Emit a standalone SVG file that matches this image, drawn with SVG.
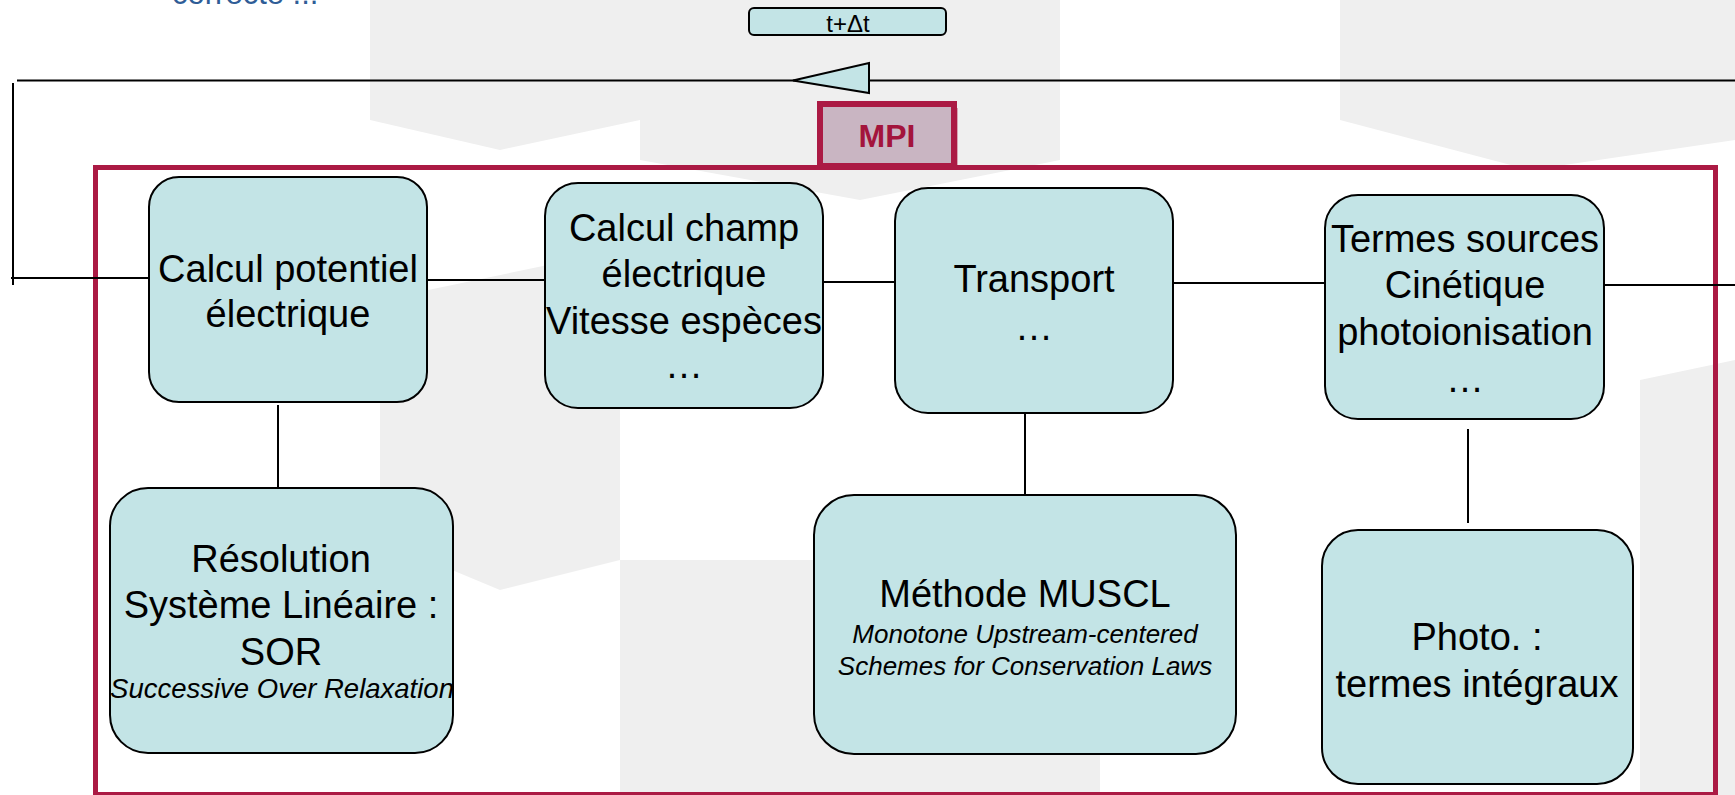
<svg xmlns="http://www.w3.org/2000/svg" width="1735" height="795" viewBox="0 0 1735 795">
<style>
.box{fill:#c3e4e6;stroke:#000;stroke-width:2}
.t{font-family:"Liberation Sans",Arial,sans-serif;font-size:38px;fill:#000;text-anchor:middle}
.it{font-family:"Liberation Sans",Arial,sans-serif;font-size:26px;font-style:italic;fill:#000;text-anchor:middle}
.ln{stroke:#000;stroke-width:2;fill:none}
</style>
<rect width="1735" height="795" fill="#fff"/>
<g id="background" fill="#efefef" stroke="none">
<polygon points="370,0 640,0 640,120 500,150 370,120"/>
<polygon points="640,0 1060,0 1060,160 860,200 640,160"/>
<polygon points="1340,0 1735,0 1735,140 1530,170 1340,120"/>
<polygon points="380,300 620,250 620,560 500,590 380,540"/>
<polygon points="620,560 1100,560 1100,795 620,795"/>
<polygon points="1640,380 1735,360 1735,795 1640,795"/>
</g>
<text id="title-fragment" x="172" y="4" font-family="Liberation Sans,Arial,sans-serif" font-size="31" fill="#2f5d97">correcte ...</text>
<g id="frame">
<rect x="95.5" y="167.5" width="1620" height="627" fill="none" stroke="#ab1a44" stroke-width="5"/>
</g>
<g id="connectors">
<line class="ln" x1="17" y1="80.5" x2="1735" y2="80.5"/>
<polygon points="793,80.5 869,63 869,93" fill="#c3e4e6" stroke="#000" stroke-width="2"/>
<line class="ln" x1="13" y1="83" x2="13" y2="285"/>
<line class="ln" x1="11" y1="278" x2="149" y2="278"/>
<line class="ln" x1="427" y1="280" x2="545" y2="280"/>
<line class="ln" x1="823" y1="282" x2="895" y2="282"/>
<line class="ln" x1="1173" y1="283" x2="1325" y2="283"/>
<line class="ln" x1="1604" y1="285" x2="1735" y2="285"/>
<line class="ln" x1="278" y1="405" x2="278" y2="488"/>
<line class="ln" x1="1025" y1="402" x2="1025" y2="495"/>
<line class="ln" x1="1468" y1="429" x2="1468" y2="523"/>
</g>
<g id="dt">
<rect x="749" y="8" width="197" height="27" rx="5" class="box"/>
<text x="848" y="32" font-family="Liberation Sans,Arial,sans-serif" font-size="24" text-anchor="middle">t+Δt</text>
</g>
<g id="mpi">
<rect x="824" y="108" width="134" height="62" fill="#ab1a44" opacity="0.35"/>
<rect x="820" y="104" width="134" height="62" fill="#c9b5c2" stroke="#ab1a44" stroke-width="6"/>
<text x="887" y="147" font-family="Liberation Sans,Arial,sans-serif" font-size="32" font-weight="bold" fill="#a3143c" text-anchor="middle">MPI</text>
</g>
<g id="potentiel">
<rect x="149" y="177" width="278" height="225" rx="30" class="box"/>
<text class="t" x="288" y="282">Calcul potentiel</text>
<text class="t" x="288" y="327">électrique</text>
</g>
<g id="champ">
<rect x="545" y="183" width="278" height="225" rx="33" class="box"/>
<text class="t" x="684" y="241">Calcul champ</text>
<text class="t" x="684" y="287">électrique</text>
<text class="t" x="684" y="334">Vitesse espèces</text>
<text class="t" x="684" y="378">…</text>
</g>
<g id="transport">
<rect x="895" y="188" width="278" height="225" rx="33" class="box"/>
<text class="t" x="1034" y="292">Transport</text>
<text class="t" x="1034" y="340">…</text>
</g>
<g id="sources">
<rect x="1325" y="195" width="279" height="224" rx="33" class="box"/>
<text class="t" x="1465" y="252">Termes sources</text>
<text class="t" x="1465" y="298">Cinétique</text>
<text class="t" x="1465" y="345">photoionisation</text>
<text class="t" x="1465" y="392">…</text>
</g>
<g id="sor">
<rect x="110" y="488" width="343" height="265" rx="38" class="box"/>
<text class="t" x="281" y="572">Résolution</text>
<text class="t" x="281" y="618">Système Linéaire :</text>
<text class="t" x="281" y="665">SOR</text>
<text class="it" x="282" y="698" style="font-size:27.5px">Successive Over Relaxation</text>
</g>
<g id="muscl">
<rect x="814" y="495" width="422" height="259" rx="40" class="box"/>
<text class="t" x="1025" y="607">Méthode MUSCL</text>
<text class="it" x="1025" y="643">Monotone Upstream-centered</text>
<text class="it" x="1025" y="675">Schemes for Conservation Laws</text>
</g>
<g id="photo">
<rect x="1322" y="530" width="311" height="254" rx="36" class="box"/>
<text class="t" x="1477" y="650">Photo. :</text>
<text class="t" x="1477" y="697">termes intégraux</text>
</g>
</svg>
